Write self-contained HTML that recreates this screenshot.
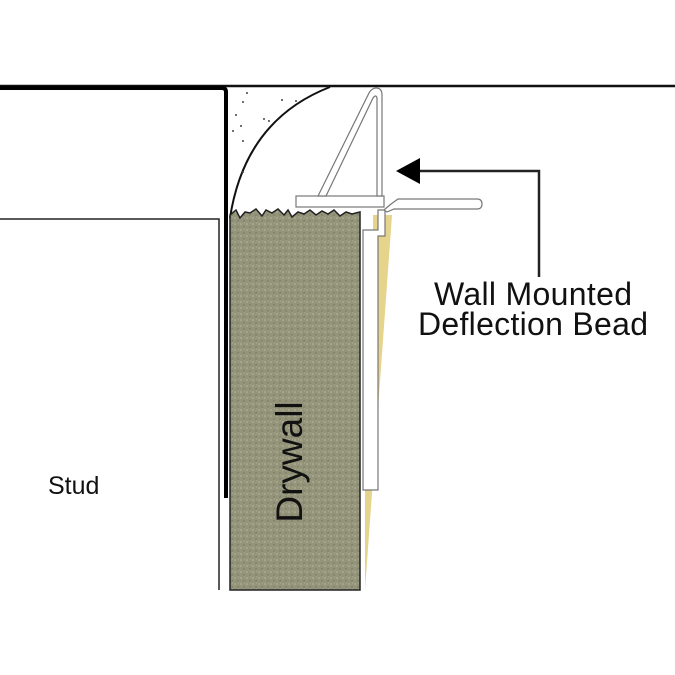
<!DOCTYPE html>
<html><head><meta charset="utf-8"><style>body{margin:0;background:#fff}svg{display:block}</style></head>
<body>
<svg width="675" height="675" viewBox="0 0 675 675" xmlns="http://www.w3.org/2000/svg">
<defs>
<pattern id="dw" width="6" height="6" patternUnits="userSpaceOnUse">
<rect width="6" height="6" fill="#94947a"/>
<circle cx="1" cy="2" r="0.8" fill="#babaa2"/><circle cx="4" cy="5" r="0.7" fill="#74745c"/><circle cx="4.5" cy="1" r="0.6" fill="#acac94"/>
</pattern>
</defs>
<rect width="675" height="675" fill="#fff"/>
<line x1="0" y1="86" x2="675" y2="86" stroke="#111" stroke-width="2.5"/>
<path d="M0 88 H222 Q226 88 226 92 V498" fill="none" stroke="#000" stroke-width="4"/>
<path d="M0 219 H219 V590" fill="none" stroke="#222" stroke-width="1.5"/>
<path d="M230 218 Q245 120 330 87" fill="none" stroke="#111" stroke-width="2"/>
<g fill="#444"><circle cx="247" cy="93" r="1"/><circle cx="243" cy="102" r="1"/><circle cx="236" cy="115" r="1"/><circle cx="241" cy="126" r="1"/><circle cx="233" cy="131" r="1"/><circle cx="243" cy="141" r="1"/><circle cx="282" cy="100" r="1"/><circle cx="296" cy="101" r="1"/><circle cx="264" cy="119" r="1"/><circle cx="269" cy="121" r="1"/><circle cx="243" cy="172" r="1"/></g>
<path d="M230 590 V215 L236 210 L240 218 L245 212 L250 213 L256 209 L262 216 L266 210 L272 213 L278 209 L284 215 L288 210 L292 217 L298 212 L304 214 L310 210 L316 215 L322 211 L328 214 L334 210 L340 216 L346 212 L352 214 L360 212 V590 Z" fill="url(#dw)" stroke="#222" stroke-width="1.5"/>
<path d="M373 215 L392 215 L365 590 L365 490 L373 490 Z" fill="#e6d38c"/>
<path d="M363 230 H378 V210 H385 V236 H378 V490 H363 Z" fill="#fff" stroke="#777" stroke-width="1.2"/>
<rect x="296" y="196" width="88" height="11" fill="#fff" stroke="#777" stroke-width="1.2"/>
<path d="M382 196 V95 Q382 88 376 88 Q372 88 369 93 L318 196 H326 L373 98 Q376 94 377 98 V196 Z" fill="#fff" stroke="#777" stroke-width="1.2"/>
<path d="M384 210 L391 204 L398 199 H477 Q482 199 482 204 Q482 209 477 209 H394 L387 212 Z" fill="#fff" stroke="#777" stroke-width="1.2"/>
<path d="M419 171 H539 V277" fill="none" stroke="#222" stroke-width="2.5"/>
<polygon points="396,171 420,158 420,184" fill="#000"/>
<g font-family="Liberation Sans, sans-serif" fill="#111">
<text x="533" y="305" font-size="32" text-anchor="middle" textLength="198">Wall Mounted</text>
<text x="533" y="335" font-size="32" text-anchor="middle" textLength="230">Deflection Bead</text>
<text x="48" y="494" font-size="25">Stud</text>
<text transform="translate(302,462) rotate(-90)" font-size="37" text-anchor="middle">Drywall</text>
</g>
</svg>
</body></html>
